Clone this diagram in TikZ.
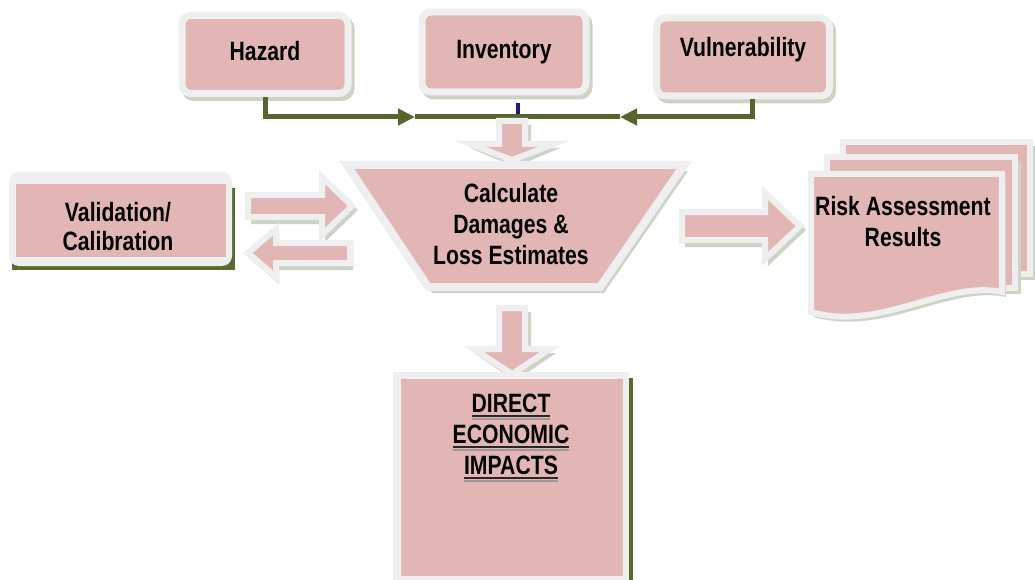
\documentclass[tikz,border=0pt]{standalone}
\usepackage{fontspec}
\newfontfamily\lab[FakeStretch=0.8]{Liberation Sans}
\usetikzlibrary{calc,arrows.meta,shadows}
\definecolor{pinkf}{HTML}{E3B6B6}
\definecolor{framec}{HTML}{EFEFEF}
\definecolor{shadowc}{HTML}{CDD4C6}
\definecolor{glinec}{HTML}{56662B}
\definecolor{dgreen}{HTML}{5A6B2E}
\definecolor{tickc}{HTML}{1A1A80}
\newcommand\myul[1]{\leavevmode\setbox0=\hbox{#1}\rlap{\color{gray!80}\raisebox{-7pt}{\rule{\wd0}{2pt}}}\rlap{\color{black!85}\raisebox{-4.5pt}{\rule{\wd0}{2.6pt}}}\box0}
\newcommand\barrow[5]{%
  \path let \p1=($(#2)-(#1)$), \n1={atan2(\y1,\x1)}, \n2={veclen(\x1,\y1)} in
    \pgfextra{\xdef\baang{\n1}\xdef\balen{\n2}};
  \begin{scope}[shift={($(#1)+(3,4)$)},rotate=\baang]
    \fill[shadowc] (0,-#3-3) -- (\balen-#5,-#3-3) -- (\balen-#5,-#4-3) -- (\balen+3,0) -- (\balen-#5,#4+3) -- (\balen-#5,#3+3) -- (0,#3+3) -- cycle;
  \end{scope}
  \begin{scope}[shift={(#1)},rotate=\baang]
    \draw[framec,line width=6pt,fill=pinkf,line join=miter] (0,-#3) -- (\balen-#5,-#3) -- (\balen-#5,-#4) -- (\balen,0) -- (\balen-#5,#4) -- (\balen-#5,#3) -- (0,#3) -- cycle;
  \end{scope}}
\begin{document}
\begin{tikzpicture}[x=1pt,y=-1pt,
  font=\lab\bfseries\fontsize{26.5}{31}\selectfont,
  tbox/.style={fill=pinkf, draw=framec, line width=7pt, rounded corners=9pt, inner sep=0pt,
    drop shadow={shadow xshift=3pt,shadow yshift=-4pt,fill=shadowc,draw=shadowc,line width=7pt,opacity=1}},
  gl/.style={glinec, line width=5pt},
  gtip/.style={-{Triangle[length=17pt,width=16pt]}},
  txt/.style={align=center, inner sep=0pt},
  page/.style={fill=pinkf, draw=framec, line width=6pt, line join=miter}]
\useasboundingbox (0,0) rectangle (1035,580);
\fill[white] (0,0) rectangle (1035,580);

% top boxes
\node[tbox, minimum width=166pt, minimum height=78pt, text depth=8pt] (hz) at (265,54.5) {Hazard};
\node[tbox, minimum width=164pt, minimum height=80pt] (inv) at (504,52) {Inventory};
\node[tbox, minimum width=173pt, minimum height=78pt, text depth=20pt] (vu) at (743,57) {Vulnerability};

% green connector
\coordinate (j) at (518,117);
\coordinate (a1) at (415,117);
\coordinate (a2) at (620,117);
\coordinate (tk) at (518,103);
\draw[tickc, line width=4pt] (tk) -- (j);
\draw[gl, gtip] (hz.south) |- (a1);
\draw[gl] (a1) -- (j);
\draw[gl, gtip] ([xshift=9pt]vu.south) |- (a2);
\draw[gl] (a2) -- (j);

% arrow into funnel
\coordinate (ia) at (512,121);
\coordinate (ib) at (512,160);
\barrow{ia}{ib}{13}{42}{16}

% funnel
\fill[shadowc] (351,171) -- (688,171) -- (604,293) -- (432,293) -- cycle;
\draw[fill=pinkf, draw=framec, line width=8pt, line join=miter] (347,165) -- (684,165) -- (600,287) -- (428,287) -- cycle;
\node[txt] (calc) at (511,224) {Calculate\\Damages \&\\Loss Estimates};

% validation box
\fill[dgreen] (12,188) rectangle (235,270);
\fill[framec, rounded corners=10pt] (9,172) rectangle (232,266);
\node[fill=pinkf, minimum width=210pt, minimum height=73pt, inner sep=0pt] (val) at (121,220.5) {};
\node[txt, font=\lab\bfseries\fontsize{26.5}{29}\selectfont] (valt) at (118,227) {Validation/\\Calibration};

% double arrows
\coordinate (r1) at (248,206);
\coordinate (r2) at (352,206);
\coordinate (l1) at (350,253);
\coordinate (l2) at (248,253);
\barrow{r1}{r2}{11}{29}{30}
\barrow{l1}{l2}{10}{24}{28}

% risk arrow
\coordinate (ra) at (682,226);
\coordinate (rb) at (800,226);
\barrow{ra}{rb}{14}{33}{35}

% risk document stack
\fill[shadowc] (846,146) rectangle (1036,280);
\draw[page] (843,142) rectangle (1030,274);
\fill[shadowc] (830,161) rectangle (1021,294);
\draw[page] (827,157) rectangle (1015,288);
\fill[shadowc] (814,178) -- (1006,178) -- (1006,297) .. controls (949,285) and (884,337) .. (814,317) -- cycle;
\draw[page] (811,174) -- (1002,174) -- (1002,292) .. controls (945,280) and (880,332) .. (811,312) -- cycle;
\node[txt] (risk) at (903,222) {Risk Assessment\\Results};

% arrow down to direct
\coordinate (da) at (512,308);
\coordinate (db) at (512,374);
\barrow{da}{db}{13}{38}{25}

% direct economic impacts
\fill[dgreen] (397,378) rectangle (633,582);
\fill[framec] (393,372) rectangle (629,582);
\node[fill=pinkf, minimum width=222pt, minimum height=197pt, inner sep=0pt] (dei) at (512,477.5) {};
\node[txt] (deit) at (511,438) {\myul{DIRECT}\\\myul{ECONOMIC}\\\myul{IMPACTS}};
\end{tikzpicture}
\end{document}
